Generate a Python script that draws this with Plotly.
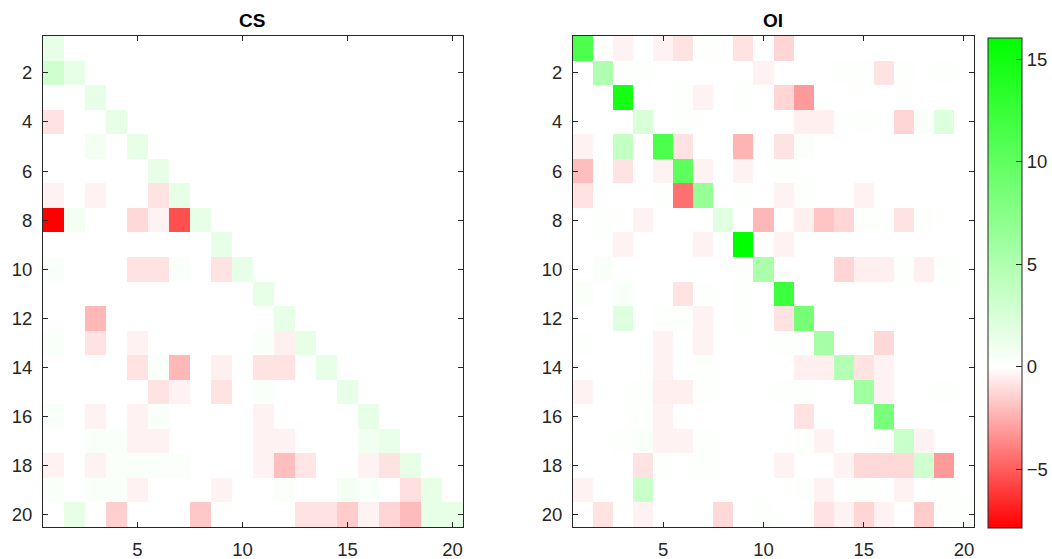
import plotly.graph_objects as go

idx = list(range(1, 21))
titles = ["CS", "OI"]

cs_values = [
    [1.5,0,0,0,0,0,0,0,0,0,0,0,0,0,0,0,0,0,0,0],
    [3.0,1.5,0,0,0,0,0,0,0,0,0,0,0,0,0,0,0,0,0,0],
    [0,0,1.5,0,0,0,0,0,0,0,0,0,0,0,0,0,0,0,0,0],
    [-0.9,0,0,1.5,0,0,0,0,0,0,0,0,0,0,0,0,0,0,0,0],
    [0,0,0.8,0,1.5,0,0,0,0,0,0,0,0,0,0,0,0,0,0,0],
    [0,0,0,0,0,1.5,0,0,0,0,0,0,0,0,0,0,0,0,0,0],
    [-0.4,0,-0.4,0,0,-0.9,1.5,0,0,0,0,0,0,0,0,0,0,0,0,0],
    [-7.86,0.8,0,0,-1.2,-0.4,-5.4,1.5,0,0,0,0,0,0,0,0,0,0,0,0],
    [0,0,0,0,0,0,0,0,1.5,0,0,0,0,0,0,0,0,0,0,0],
    [0.4,0,0,0,-0.9,-0.9,0.4,0,-0.9,1.5,0,0,0,0,0,0,0,0,0,0],
    [0,0,0,0,0,0,0,0,0,0,1.5,0,0,0,0,0,0,0,0,0],
    [0,0,-2.2,0,0,0,0,0,0,0,0,1.5,0,0,0,0,0,0,0,0],
    [0.4,0,-0.9,0,-0.4,0,0,0,0,0,0.4,-0.5,1.5,0,0,0,0,0,0,0],
    [0,0,0,0,-0.9,0.4,-2.2,0,-0.5,0,-0.9,-0.9,0,1.5,0,0,0,0,0,0],
    [0,0,0,0,0,-0.9,-0.4,0,-0.9,0,0.4,0,0,0,1.5,0,0,0,0,0],
    [0.4,0,-0.4,0,-0.4,0.4,0,0,0,0,-0.4,0,0,0,0,1.5,0,0,0,0],
    [0,0,0.4,0.4,-0.4,-0.4,0,0,0,0,-0.4,-0.4,0,0,0,0.9,1.3,0,0,0],
    [-0.4,0,-0.4,0.3,0.3,0.3,0.3,0,0,0,-0.4,-2.0,-0.8,0,0,-0.4,-0.9,1.5,0,0],
    [0.4,0,0.4,0.4,-0.4,0,0,0,-0.4,0,0,0.3,0,0,0.8,0.4,0,-1.0,1.5,0],
    [0,1.5,0,-1.5,0,0,0,-1.7,0,0,0,0,-0.9,-0.9,-1.6,-0.4,-1.3,-2.1,1.5,1.5],
]

oi_values = [
    [11.2,0,-0.4,0,-0.4,-0.9,0.2,0,-0.9,0,-1.3,0,0,0,0,0,0,0,0,0],
    [0,5.0,0,0.2,0,0,0,0,0,-0.4,0,0,0,0.2,0.2,-0.9,0.2,0,0.2,0],
    [0,0,14.8,0,0,0.2,-0.4,0,0.2,0,-1.3,-3.1,0,0,0,0,0,0,0,0],
    [0,0,0,2.4,0,0.2,0,0,0,0,0,-0.5,-0.5,0,0.2,0,-1.3,0.3,2.1,0],
    [-0.4,0,3.7,0,11.2,-0.9,0,0,-2.3,0,-0.9,0.3,0,0,0,0,0,0,0,0],
    [-2.0,0,-0.9,0,-0.4,10.2,-0.4,0,-0.4,0,0.2,0,0,0,0,0,0,0,0,0],
    [-0.9,0,0,0,0.2,-4.4,6.6,0,0.2,0,-0.4,0.2,0,0,-0.4,0,0,0,0,0],
    [0,0.2,0,-0.4,0,0,0,1.9,0,-2.2,0,-0.5,-1.8,-1.3,0.2,0.2,-0.9,0.2,0,0],
    [0,0,-0.4,0,0,0,-0.4,0,16.05,0,-0.4,0,0,0,0,0,0,0,0,0],
    [0,0.4,0,0,0,0,0,0,0,5.3,0,0,0,-1.3,-0.5,-0.5,0.2,-0.5,0.2,0],
    [0.3,0,0.4,0,0,-0.9,0.2,0,0.2,0,12.2,0,0,0,0,0,0,0,0,0],
    [0,0,2.1,0,0.2,0.2,-0.4,0,0.2,0,-0.9,8.6,0,0,0,0,0,0,0,0],
    [0.2,0,0,0,-0.4,0,-0.4,0,0,0,0.2,0,5.6,0,0,-1.2,0,0,0,0],
    [0,0,0,0,-0.4,0,0.1,0,0,0,0,-0.5,-0.5,4.8,-0.9,-0.4,0,0,0,0],
    [-0.4,0,0,0.1,-0.5,-0.5,0.1,0,0,0,0.2,0.2,0,0,6.0,-0.4,0,0,0.1,0],
    [0,0,0,0.1,-0.4,0,0,0,0,0,0,-0.9,0,0,0,8.4,0,0,0,0],
    [0,0,0.1,0.4,-0.4,-0.4,0.1,0,0,0,0,0.1,-0.4,0,0,0.2,3.4,-0.4,0,0],
    [0,0,0,-0.9,0.2,0,0.1,0,0,0,-0.4,0,0,-0.4,-1.2,-1.2,-1.2,3.0,-3.1,0],
    [-0.4,0,0,3.4,0,0,0,0,0,0,0,0.1,-0.4,0,0.1,0,-0.4,0,0.1,0],
    [0,-0.9,0,-0.4,0,0,0,-1.2,0,0.2,0,0,-0.9,-0.4,-1.3,-0.4,0,-1.6,0.2,0.1],
]

zmin, zmax = -7.86, 16.05
f0 = (0 - zmin) / (zmax - zmin)
cscale = [[0, "rgb(255,0,0)"], [f0, "rgb(255,255,255)"], [1, "rgb(0,255,0)"]]

W, H = 1052, 559
def px(x): return x / W
def py(y): return 1 - y / H

FONT = "Liberation Sans, Arial, Helvetica"
TICK_SIZE = 18.5

fig = go.Figure()
fig.add_trace(go.Heatmap(z=cs_values, x=idx, y=idx, zmin=zmin, zmax=zmax,
                         colorscale=cscale, showscale=False,
                         xaxis="x", yaxis="y"))
fig.add_trace(go.Heatmap(z=oi_values, x=idx, y=idx, zmin=zmin, zmax=zmax,
                         colorscale=cscale, xaxis="x2", yaxis="y2",
                         colorbar=dict(
                             x=px(988), xanchor="left", xpad=0, ypad=0,
                             y=py(38), yanchor="top", len=490, lenmode="pixels",
                             thickness=34, thicknessmode="pixels",
                             outlinewidth=1, outlinecolor="#262626",
                             tickvals=[-5, 0, 5, 10, 15], ticks="inside",
                             ticklen=6, tickcolor="#262626",
                             tickfont=dict(family=FONT, size=TICK_SIZE, color="#262626"),
                         )))

axis_common = dict(showgrid=False, zeroline=False, showline=True, linecolor="#262626",
                   linewidth=1, mirror="ticks", ticks="inside", ticklen=5,
                   tickcolor="#262626", automargin=False,
                   tickfont=dict(family=FONT, size=TICK_SIZE, color="#262626"))

fig.update_layout(
    width=W, height=H, margin=dict(l=0, r=0, t=0, b=0, autoexpand=False),
    paper_bgcolor="white", plot_bgcolor="white",
    xaxis=dict(domain=[px(43), px(463)], range=[0.5, 20.5], tickvals=[5, 10, 15, 20],
               anchor="y", ticklabelstandoff=6, **axis_common),
    yaxis=dict(domain=[py(527), py(36)], range=[20.5, 0.5], tickvals=list(range(2, 21, 2)),
               anchor="x", ticklabelstandoff=6, **axis_common),
    xaxis2=dict(domain=[px(573), px(974)], range=[0.5, 20.5], tickvals=[5, 10, 15, 20],
                anchor="y2", ticklabelstandoff=6, **axis_common),
    yaxis2=dict(domain=[py(527), py(36)], range=[20.5, 0.5], tickvals=list(range(2, 21, 2)),
                anchor="x2", ticklabelstandoff=6, **axis_common),
    annotations=[
        dict(text="<b>" + titles[0] + "</b>", x=px(252), y=py(20), xref="paper", yref="paper",
             xanchor="center", yanchor="middle",
             showarrow=False, font=dict(family=FONT, size=19, color="#000000")),
        dict(text="<b>" + titles[1] + "</b>", x=px(773), y=py(20), xref="paper", yref="paper",
             xanchor="center", yanchor="middle",
             showarrow=False, font=dict(family=FONT, size=19, color="#000000")),
    ],
)

fig.write_html("out.html", config={"displayModeBar": False},
               post_script="document.body.style.margin='0';document.body.style.padding='0';")
